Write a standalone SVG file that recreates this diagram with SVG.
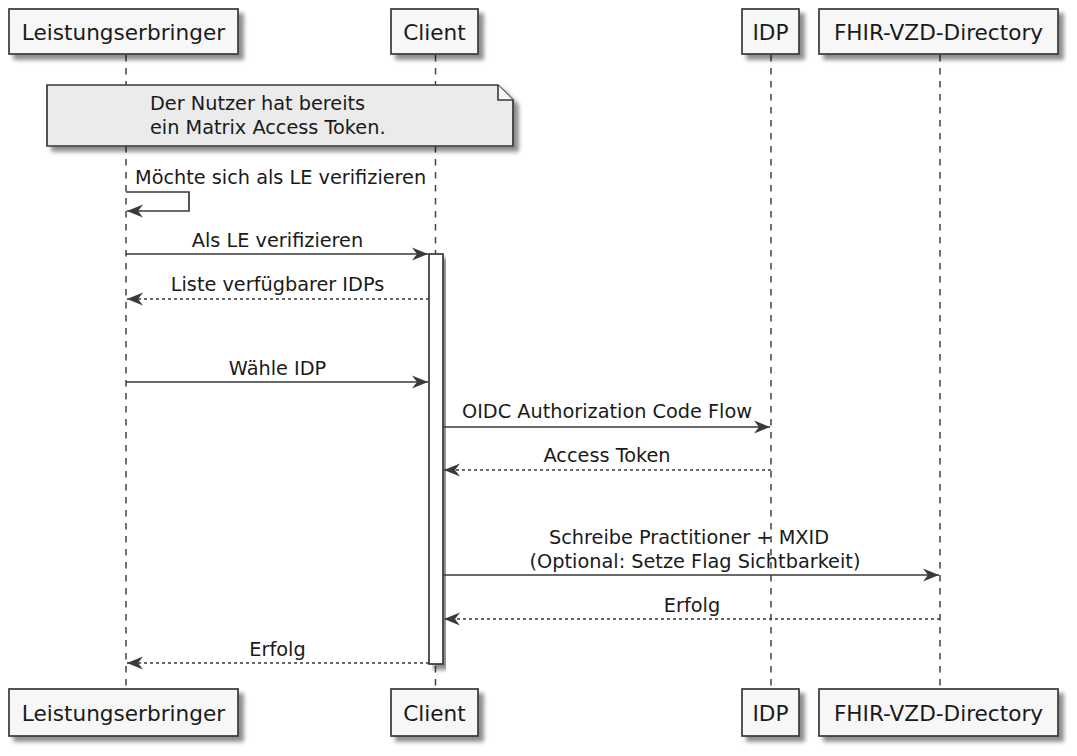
<svg xmlns="http://www.w3.org/2000/svg" width="1077" height="756" viewBox="0 0 1077 756">
<defs>
<filter id="sh" x="-10%" y="-10%" width="130%" height="140%">
<feGaussianBlur in="SourceAlpha" stdDeviation="2.2"/>
<feOffset dx="5" dy="5" result="b"/>
<feComponentTransfer><feFuncA type="linear" slope="0.45"/></feComponentTransfer>
<feMerge><feMergeNode/><feMergeNode in="SourceGraphic"/></feMerge>
</filter>
<marker id="ah" viewBox="0 0 18 16" markerWidth="18" markerHeight="16" refX="17" refY="8" orient="auto" markerUnits="userSpaceOnUse">
<polygon points="1,1.5 17,8 1,14.5 6,8" fill="#3a3a3a"/>
</marker>
</defs>
<style>
.box{fill:#f7f7f7;stroke:#383838;stroke-width:1.7}
.pt{font-family:"DejaVu Sans",Verdana,sans-serif;font-size:21.6px;fill:#1a1a1a;text-anchor:middle}
.mt{font-family:"DejaVu Sans",Verdana,sans-serif;font-size:19.3px;fill:#1a1a1a;text-anchor:middle}
.life{stroke:#444;stroke-width:1.5;stroke-dasharray:6.5,6.5;fill:none}
.sol{stroke:#383838;stroke-width:1.7;fill:none;marker-end:url(#ah)}
.dot{stroke:#383838;stroke-width:1.6;fill:none;stroke-dasharray:3,3;marker-end:url(#ah)}
</style>
<rect width="1077" height="756" fill="#ffffff"/>
<g id="lifelines">
<line class="life" x1="126" y1="55" x2="126" y2="689"/>
<line class="life" x1="435.5" y1="55" x2="435.5" y2="689"/>
<line class="life" x1="771" y1="55" x2="771" y2="689"/>
<line class="life" x1="940" y1="55" x2="940" y2="689"/>
</g>
<g id="p-leistungserbringer">
<rect class="box" x="9" y="9" width="229" height="45" filter="url(#sh)"/>
<text class="pt" x="123.5" y="39.5">Leistungserbringer</text>
<rect class="box" x="9" y="689" width="229" height="47" filter="url(#sh)"/>
<text class="pt" x="123.5" y="720.5">Leistungserbringer</text>
</g>
<g id="p-client">
<rect class="box" x="391" y="9" width="87" height="45" filter="url(#sh)"/>
<text class="pt" x="434.5" y="39.5">Client</text>
<rect class="box" x="391" y="689" width="87" height="47" filter="url(#sh)"/>
<text class="pt" x="434.5" y="720.5">Client</text>
</g>
<g id="p-idp">
<rect class="box" x="742" y="9" width="57" height="45" filter="url(#sh)"/>
<text class="pt" x="770.5" y="39.5">IDP</text>
<rect class="box" x="742" y="689" width="57" height="47" filter="url(#sh)"/>
<text class="pt" x="770.5" y="720.5">IDP</text>
</g>
<g id="p-fhir">
<rect class="box" x="819" y="9" width="239" height="45" filter="url(#sh)"/>
<text class="pt" x="938.5" y="39.5">FHIR-VZD-Directory</text>
<rect class="box" x="819" y="689" width="239" height="47" filter="url(#sh)"/>
<text class="pt" x="938.5" y="720.5">FHIR-VZD-Directory</text>
</g>
<g id="note">
<path d="M47,85 H498 L513,100 V146 H47 Z" fill="#ebebeb" stroke="#383838" stroke-width="1.7" filter="url(#sh)"/>
<path d="M498,85 V100 H513" fill="#f7f7f7" stroke="#383838" stroke-width="1.6"/>
<text class="mt" x="150" y="110" style="text-anchor:start">Der Nutzer hat bereits</text>
<text class="mt" x="150" y="134" style="text-anchor:start">ein Matrix Access Token.</text>
</g>
<g id="activation">
<rect x="429" y="254" width="14" height="410" fill="#ffffff" stroke="#383838" stroke-width="1.7" filter="url(#sh)"/>
</g>
<g id="connectors">
<polyline class="sol" points="126,192 189,192 189,211 127,211"/>
<text class="mt" x="135" y="184" style="text-anchor:start">Möchte sich als LE verifizieren</text>
<line class="sol" x1="126" y1="254" x2="428" y2="254"/>
<text class="mt" x="277.5" y="247">Als LE verifizieren</text>
<line class="dot" x1="429" y1="299" x2="127" y2="299"/>
<text class="mt" x="277.5" y="291">Liste verfügbarer IDPs</text>
<line class="sol" x1="126" y1="382" x2="428" y2="382"/>
<text class="mt" x="277.5" y="374.5">Wähle IDP</text>
<line class="sol" x1="443" y1="427" x2="770" y2="427"/>
<text class="mt" x="607" y="418">OIDC Authorization Code Flow</text>
<line class="dot" x1="771" y1="470" x2="444" y2="470"/>
<text class="mt" x="607" y="462">Access Token</text>
<line class="sol" x1="443" y1="575" x2="939" y2="575"/>
<text class="mt" x="689" y="544">Schreibe Practitioner + MXID</text>
<text class="mt" x="695" y="568">(Optional: Setze Flag Sichtbarkeit)</text>
<line class="dot" x1="940" y1="619" x2="444" y2="619"/>
<text class="mt" x="692" y="612">Erfolg</text>
<line class="dot" x1="429" y1="663" x2="127" y2="663"/>
<text class="mt" x="277.5" y="656">Erfolg</text>
</g>
</svg>
